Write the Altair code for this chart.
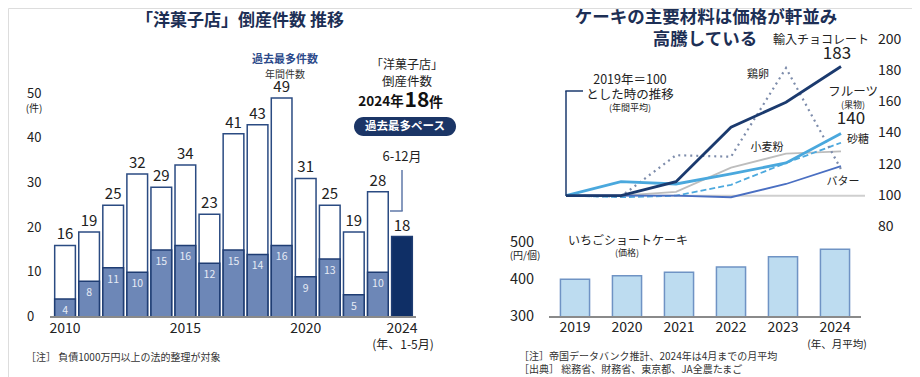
import altair as alt
import pandas as pd

FONT = "Noto Sans CJK JP"

# ---------------- data ----------------
# Left: 洋菓子店 倒産件数
years_l = list(range(2010, 2025))
total_l = [16, 19, 25, 32, 29, 34, 23, 41, 43, 49, 31, 25, 19, 28, 18]
janmay_l = [4, 8, 11, 10, 15, 16, 12, 15, 14, 16, 9, 13, 5, 10, 18]
yticks_l = [0, 10, 20, 30, 40, 50]
xlabel_years_l = [2010, 2015, 2020, 2024]

# Right top: 2019=100 index
years_r = [2019, 2020, 2021, 2022, 2023, 2024]
series_names = ["小麦粉", "砂糖", "バター", "鶏卵", "フルーツ", "輸入チョコレート"]
flour = [100, 100, 102.5, 118, 127, 128.5]
sugar = [100, 99, 100, 107, 121, 134]
butter = [100, 100, 100, 99, 107.5, 119]
egg = [100, 99.5, 126, 125, 182, 117]
fruit = [100, 109, 107.5, 114, 121, 140]
choc = [100, 100, 109, 144, 160, 183]
yticks_r = [80, 100, 120, 140, 160, 180, 200]

# Right bottom: いちごショートケーキ price
cake = [401, 411, 420, 434, 462, 482]
yticks_c = [300, 400, 500]

# ---------------- helpers ----------------
def px(v):
    return v - 8

ONE = pd.DataFrame({"k": [0]})


def label(text, x, y, size=11, color="#222222", weight="normal", align="center"):
    return alt.Chart(ONE).mark_text(
        text=text, fontSize=size, color=color, fontWeight=weight,
        align=align, baseline="middle", font=FONT
    ).encode(x=alt.value(px(x)), y=alt.value(px(y)))


def seg(x1, y1, x2, y2, color, w=1.5):
    return alt.Chart(ONE).mark_rule(color=color, strokeWidth=w).encode(
        x=alt.value(px(x1)), y=alt.value(px(y1)),
        x2=alt.value(px(x2)), y2=alt.value(px(y2)))


# ---------------- left chart ----------------
dl = pd.DataFrame({"year": years_l, "total": total_l, "janmay": janmay_l})
xl = alt.X("year:O", axis=None,
           scale=alt.Scale(domain=years_l, range=[px(53), px(414)],
                           paddingInner=0.14, paddingOuter=0.07))
yl_scale = alt.Scale(domain=[0, 50], range=[px(317), px(93.5)], nice=False, zero=False)

base_l = alt.Chart(dl)
bars_total = base_l.transform_filter("datum.year < 2024").mark_bar(
    fill="white", stroke="#2b4b82", strokeWidth=1.5
).encode(x=xl, y=alt.Y("total:Q", scale=yl_scale, axis=None))
bars_low = base_l.mark_bar(stroke="#1f3d73", strokeWidth=1.5).encode(
    x=xl, y=alt.Y("janmay:Q", scale=yl_scale, axis=None),
    color=alt.condition("datum.year == 2024", alt.value("#0f2f66"), alt.value("#6d87b7")))
txt_total = base_l.mark_text(dy=-11, fontSize=15, color="#222222", font=FONT).encode(
    x=xl, y=alt.Y("total:Q", scale=yl_scale), text="total:Q")
txt_low = base_l.transform_filter("datum.year < 2024").mark_text(
    dy=12, fontSize=10.5, color="#e6ebf5", font=FONT).encode(
    x=xl, y=alt.Y("janmay:Q", scale=yl_scale), text="janmay:Q")
xlab_l = alt.Chart(pd.DataFrame({"year": xlabel_years_l})).mark_text(
    fontSize=14, color="#222222", font=FONT).encode(
    x=xl, y=alt.value(px(329)), text="year:O")
ylab_l = alt.Chart(pd.DataFrame({"v": yticks_l})).mark_text(
    fontSize=13, color="#222222", align="left", font=FONT).encode(
    y=alt.Y("v:Q", scale=yl_scale), x=alt.value(px(27)), text="v:Q")

left = alt.layer(bars_total, bars_low, txt_total, txt_low, xlab_l, ylab_l)

# ---------------- right top line chart ----------------
vals = {"小麦粉": flour, "砂糖": sugar, "バター": butter, "鶏卵": egg,
        "フルーツ": fruit, "輸入チョコレート": choc}
rows = []
for n in series_names:
    for yr, v in zip(years_r, vals[n]):
        rows.append({"series": n, "yr": yr, "v": v})
dr = pd.DataFrame(rows)

styles = {
    "小麦粉": dict(color="#bdbdbd", strokeWidth=1.8),
    "砂糖": dict(color="#4da9de", strokeWidth=1.8, strokeDash=[6, 3]),
    "バター": dict(color="#4a6fc2", strokeWidth=1.8),
    "鶏卵": dict(color="#7d8cab", strokeWidth=2.2, strokeDash=[2, 4]),
    "フルーツ": dict(color="#4aa8dd", strokeWidth=2.8),
    "輸入チョコレート": dict(color="#1b3a6e", strokeWidth=2.8),
}

xr = alt.X("yr:Q", axis=None,
           scale=alt.Scale(domain=[2019, 2024], range=[px(566), px(841)], nice=False, zero=False))
yr_scale = alt.Scale(domain=[80, 200], range=[px(226.8), px(40)], nice=False, zero=False)

ref100 = alt.Chart(pd.DataFrame({"yr": [2019], "v": [100]})).mark_rule(
    color="#cfcfcf", strokeWidth=2).encode(
    x=xr, x2=alt.value(px(865)), y=alt.Y("v:Q", scale=yr_scale, axis=None))
line_layers = [ref100]
for n in series_names:
    line_layers.append(
        alt.Chart(dr).transform_filter(alt.datum.series == n).mark_line(**styles[n]).encode(
            x=xr, y=alt.Y("v:Q", scale=yr_scale, axis=None)))
ylab_r = alt.Chart(pd.DataFrame({"v": yticks_r})).mark_text(
    fontSize=14, color="#222222", align="left", font=FONT).encode(
    y=alt.Y("v:Q", scale=yr_scale), x=alt.value(px(878)), text="v:Q")
right_top = alt.layer(*line_layers, ylab_r)

# ---------------- right bottom bars ----------------
dc = pd.DataFrame({"yr": years_r, "price": cake})
xc = alt.X("yr:O", axis=None,
           scale=alt.Scale(domain=years_r, range=[px(549), px(861)],
                           paddingInner=0.44, paddingOuter=0.22))
yc_scale = alt.Scale(domain=[300, 500], range=[px(316.7), px(242.7)], nice=False, zero=False)
bars_c = alt.Chart(dc).mark_bar(fill="#bddcf0", stroke="#6f93c4", strokeWidth=1.5).encode(
    x=xc, y=alt.Y("price:Q", scale=yc_scale, axis=None), y2=alt.datum(300))
xlab_c = alt.Chart(dc).mark_text(fontSize=14, color="#222222", font=FONT).encode(
    x=xc, y=alt.value(px(328)), text="yr:O")
ylab_c = alt.Chart(pd.DataFrame({"v": yticks_c})).mark_text(
    fontSize=14.5, color="#222222", align="left", font=FONT).encode(
    y=alt.Y("v:Q", scale=yc_scale), x=alt.value(px(510)), text="v:Q")
right_bottom = alt.layer(bars_c, xlab_c, ylab_c)

# ---------------- annotations ----------------
NAVY = "#1d2f55"
ann = [
    # baselines
    seg(50, 317, 416, 317, "#8a8a8a", 2),
    seg(549, 317, 861, 317, "#8a8a8a", 2),
    # left titles / notes
    label("「洋菓子店」倒産件数  推移", 240, 21, 17, NAVY, "bold"),
    label("(件)", 34, 109, 10),
    label("過去最多件数", 285, 60, 11, "#2c4a8a", "bold"),
    label("年間件数", 285, 75, 10, "#333333"),
    label("「洋菓子店」", 407, 65, 12),
    label("倒産件数", 407, 82, 12.5),
    label("2024年", 381, 102, 13.5, "#111111", "bold"),
    label("18", 417, 101, 21, "#111111", "bold"),
    label("件", 436, 103, 14, "#111111", "bold"),
    alt.Chart(ONE).mark_rect(cornerRadius=9.5, color="#1b3566").encode(
        x=alt.value(px(354)), x2=alt.value(px(456)), y=alt.value(px(117)), y2=alt.value(px(136))),
    label("過去最多ペース", 405, 126.5, 11.5, "white", "bold"),
    label("6-12月", 402, 157, 13),
    seg(402, 170, 402, 211, "#5f78a8", 1.5),
    seg(390, 211, 402.7, 211, "#5f78a8", 1.5),
    label("(年、1-5月)", 403, 345, 12),
    label("［注］ 負債1000万円以上の法的整理が対象", 26, 358, 10, "#333333", align="left"),
    # right titles
    label("ケーキの主要材料は価格が軒並み", 706, 18, 17.5, NAVY, "bold"),
    label("高騰している", 705, 40, 17.5, NAVY, "bold"),
    label("輸入チョコレート", 821, 40, 12),
    label("183", 837, 54, 17),
    label("鶏卵", 758, 75, 11),
    label("フルーツ", 853, 92, 12.5),
    label("(果物)", 853, 105, 9),
    label("140", 851, 119, 17),
    label("砂糖", 858, 140, 11),
    label("小麦粉", 767, 148, 11),
    label("バター", 843, 182, 11),
    label("2019年＝100", 630, 80, 12.5),
    label("とした時の推移", 630, 95, 12.5),
    label("(年間平均)", 630, 108, 9),
    seg(566, 91, 566, 196, "#1b3a6e", 1.5),
    seg(565.3, 91, 583, 91, "#1b3a6e", 1.5),
    label("いちごショートケーキ", 628, 241, 12),
    label("(価格)", 627, 253, 9),
    label("(円/個)", 525, 256, 10),
    label("(年、月平均)", 837, 345, 10.5),
    label("［注］帝国データバンク推計、2024年は4月までの月平均", 519, 357, 10, "#333333", align="left"),
    label("［出典］ 総務省、財務省、東京都、JA全農たまご", 519, 370, 10, "#333333", align="left"),
]

chart = alt.layer(left, right_top, right_bottom, *ann).resolve_scale(
    x="independent", y="independent", color="independent"
).properties(
    width=904, height=369, autosize=alt.AutoSizeParams(type="none"), padding=0
).configure_view(stroke=None).configure(background="white")

chart.save("out.html", embed_options={"renderer": "svg", "actions": False})
